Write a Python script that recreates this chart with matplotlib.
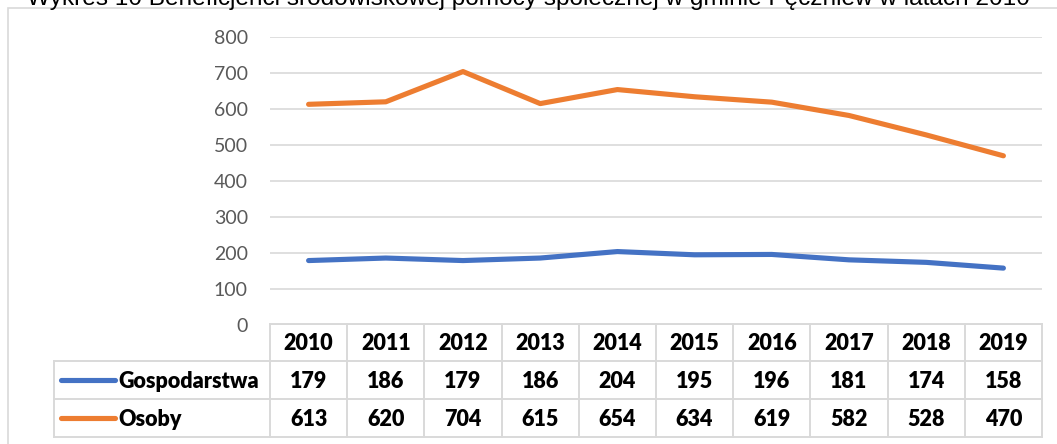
import matplotlib
matplotlib.use("Agg")
import matplotlib.pyplot as plt
from matplotlib.patches import Rectangle

# dane z wykresu
years = ["2010", "2011", "2012", "2013", "2014", "2015", "2016", "2017", "2018", "2019"]
gospodarstwa = [179, 186, 179, 186, 204, 195, 196, 181, 174, 158]
osoby = [613, 620, 704, 615, 654, 634, 619, 582, 528, 470]
series_names = ["Gospodarstwa", "Osoby"]
series_colors = ["#4472C4", "#ED7D31"]
yticks = [0, 100, 200, 300, 400, 500, 600, 700, 800]
title = "Wykres 10 Beneficjenci środowiskowej pomocy społecznej w gminie Pęczniew w latach 2010"

W, H = 1057, 444
DPI = 100
GRID = "#d9d9d9"

def fx(px):
    return px / W

def fy(py):
    return 1 - py / H

fig = plt.figure(figsize=(W / DPI, H / DPI), dpi=DPI)

# ramka wykresu
fig.add_artist(Rectangle((fx(8), fy(470)), fx(1100) - fx(8), fy(8) - fy(470),
                         transform=fig.transFigure, fill=False,
                         edgecolor=GRID, linewidth=1.2))

# tytul (w oryginale uciety u gory i z lewej)
fig.text(fx(1030), fy(5), title, ha="right", va="baseline",
         fontsize=17.6, family="Liberation Sans", color="black")

# obszar wykresu
left, right, top, bottom = 270, 1042, 37, 325
ax = fig.add_axes([fx(left), fy(bottom), fx(right) - fx(left), fy(top) - fy(bottom)])
x = list(range(len(years)))
for vals, c in zip([gospodarstwa, osoby], series_colors):
    ax.plot(x, vals, color=c, linewidth=3.7, solid_capstyle="round",
            solid_joinstyle="round", zorder=3)
ax.set_xlim(-0.5, len(years) - 0.5)
ax.set_ylim(0, 800)
ax.set_yticks(yticks)
ax.set_xticks([])
ax.yaxis.grid(True, color=GRID, linewidth=1.2)
ax.tick_params(axis="y", length=0, pad=16, labelsize=14, labelcolor="#595959")
for lab in ax.get_yticklabels():
    lab.set_family("Lato")
for s in ax.spines.values():
    s.set_visible(False)

# tabela danych
tab = fig.add_axes([0, 0, 1, 1])
tab.set_xlim(0, W)
tab.set_ylim(H, 0)
tab.axis("off")
tab.patch.set_alpha(0)

rows = [324, 361, 399, 437]
label_left = 54
colw = (right - left) / len(years)
edges = [left + colw * k for k in range(len(years) + 1)]
lw = 1.4

# poziome linie
tab.plot([left, right], [rows[0], rows[0]], color=GRID, lw=lw)
for r in rows[1:]:
    tab.plot([label_left, right], [r, r], color=GRID, lw=lw)
# pionowe linie
for e in edges:
    tab.plot([e, e], [rows[0], rows[-1]], color=GRID, lw=lw)
tab.plot([label_left, label_left], [rows[1], rows[-1]], color=GRID, lw=lw)

txt = dict(fontsize=15.5, family="Lato", fontweight="heavy", color="black",
           ha="center", va="center")
for k, y in enumerate(years):
    tab.text((edges[k] + edges[k + 1]) / 2, (rows[0] + rows[1]) / 2 + 1, y, **txt)

for i, (name, vals, c) in enumerate(zip(series_names, [gospodarstwa, osoby], series_colors)):
    yc = (rows[i + 1] + rows[i + 2]) / 2
    tab.plot([61, 115], [yc, yc], color=c, lw=3.7, solid_capstyle="round")
    tab.text(118, yc + 1, name, fontsize=15.5, family="Lato", fontweight="heavy",
             color="black", ha="left", va="center")
    for k, v in enumerate(vals):
        tab.text((edges[k] + edges[k + 1]) / 2, yc + 1, str(v), **txt)

fig.savefig("out.png", dpi=DPI)
